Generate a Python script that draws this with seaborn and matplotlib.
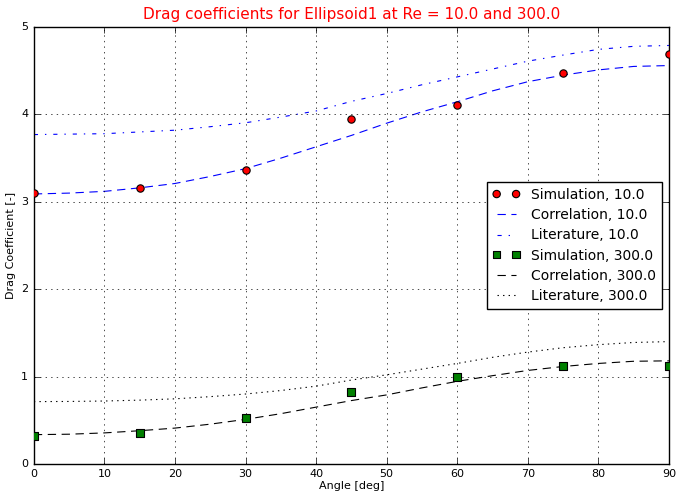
import matplotlib
matplotlib.use("Agg")
import matplotlib.pyplot as plt
import seaborn as sns
import numpy as np

# ---- data ----
sim_angles = [0, 15, 30, 45, 60, 75, 90]
sim_re10 = [3.10, 3.16, 3.36, 3.95, 4.11, 4.47, 4.69]
sim_re300 = [0.32, 0.35, 0.52, 0.825, 1.00, 1.125, 1.125]

curve_angles = [0, 5, 10, 15, 20, 25, 30, 35, 40, 45, 50, 55, 60, 65, 70, 75, 80, 85, 90]
corr_re10 = [3.09, 3.10, 3.12, 3.16, 3.21, 3.29, 3.38, 3.50, 3.63, 3.76, 3.90, 4.03, 4.145,
             4.27, 4.375, 4.45, 4.51, 4.55, 4.56]
lit_re10 = [3.77, 3.775, 3.78, 3.80, 3.82, 3.86, 3.905, 3.97, 4.04, 4.15, 4.24, 4.34, 4.43,
            4.52, 4.61, 4.68, 4.745, 4.78, 4.79]
corr_re300 = [0.335, 0.34, 0.355, 0.38, 0.41, 0.455, 0.51, 0.575, 0.65, 0.725, 0.79, 0.87,
              0.945, 1.01, 1.07, 1.115, 1.15, 1.175, 1.18]
lit_re300 = [0.713, 0.715, 0.72, 0.73, 0.745, 0.77, 0.80, 0.84, 0.89, 0.96, 1.02, 1.085,
             1.15, 1.22, 1.28, 1.33, 1.365, 1.39, 1.40]

labels = ["Simulation, 10.0", "Correlation, 10.0", "Literature, 10.0",
          "Simulation, 300.0", "Correlation, 300.0", "Literature, 300.0"]
title = "Drag coefficients for Ellipsoid1 at Re = 10.0 and 300.0"

plt.style.use("classic")
plt.rcParams["font.family"] = ["DejaVu Sans"]
plt.rcParams["figure.facecolor"] = "white"
plt.rcParams["savefig.facecolor"] = "white"

fig = plt.figure(figsize=(6.77, 4.93), dpi=100)
ax = fig.add_axes([0.050, 0.059, 0.938, 0.886])

sns.scatterplot(x=sim_angles, y=sim_re10, ax=ax, marker="o", color="red",
                edgecolor="black", linewidth=0.8, s=28, label=labels[0], zorder=3)
sns.lineplot(x=curve_angles, y=corr_re10, ax=ax, color="blue", linestyle=(0, (6, 4)),
             linewidth=0.8, label=labels[1])
sns.lineplot(x=curve_angles, y=lit_re10, ax=ax, color="blue", linestyle="-.",
             linewidth=0.8, label=labels[2])
sns.scatterplot(x=sim_angles, y=sim_re300, ax=ax, marker="s", color="green",
                edgecolor="black", linewidth=0.8, s=28, label=labels[3], zorder=3)
sns.lineplot(x=curve_angles, y=corr_re300, ax=ax, color="black", linestyle=(0, (6, 4)),
             linewidth=0.8, label=labels[4])
sns.lineplot(x=curve_angles, y=lit_re300, ax=ax, color="black", linestyle=":",
             linewidth=0.8, label=labels[5])

ax.set_xlim(0, 90)
ax.set_ylim(0, 5)
ax.set_xticks(np.arange(0, 91, 10))
ax.set_yticks(np.arange(0, 6, 1))
ax.tick_params(labelsize=8, direction="in", top=True, right=True)
ax.grid(True, color="black", linestyle=":", linewidth=0.5)
ax.set_xlabel("Angle [deg]", fontsize=8, labelpad=1)
ax.set_ylabel("Drag Coefficient [-]", fontsize=8, labelpad=4)
ax.set_title(title, color="red", fontsize=11, pad=6)

handles, labs = ax.get_legend_handles_labels()
ax.legend(handles, labs, loc="center right", fontsize=10, scatterpoints=2,
          scatteryoffsets=[0.5], numpoints=2, frameon=True, fancybox=False,
          borderaxespad=0.5, handlelength=2.0, labelspacing=0.45)

fig.savefig("out.png", dpi=100)
